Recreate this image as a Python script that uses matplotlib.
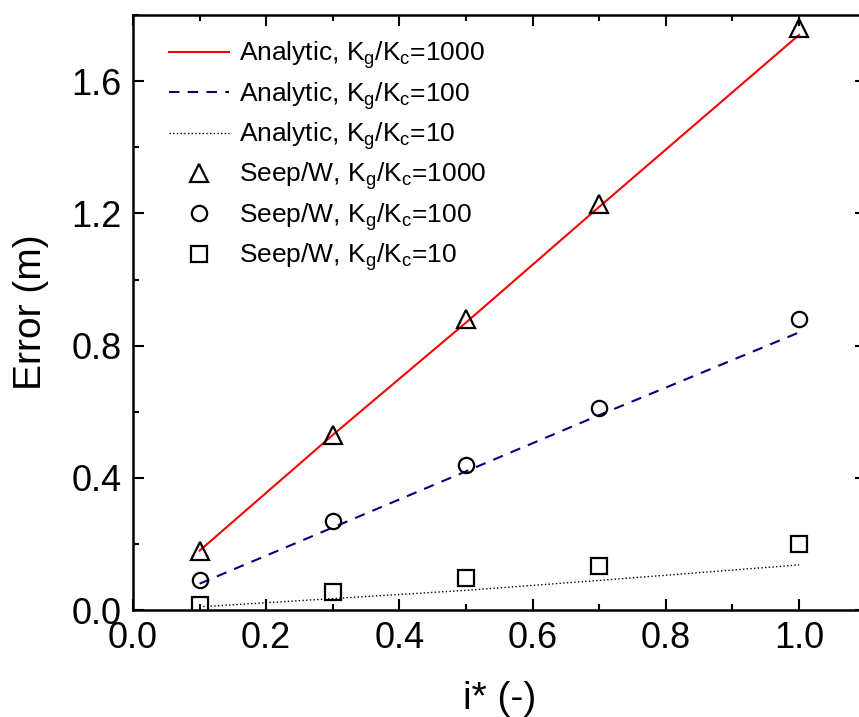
import matplotlib
matplotlib.use('Agg')
import matplotlib.pyplot as plt
from matplotlib.ticker import AutoMinorLocator

plt.rcParams['font.family'] = ['Liberation Sans', 'DejaVu Sans']
plt.rcParams['mathtext.fontset'] = 'custom'
plt.rcParams['mathtext.rm'] = 'Liberation Sans'
plt.rcParams['mathtext.default'] = 'regular'

# values
i_star = [0.1, 0.3, 0.5, 0.7, 1.0]
analytic_1000 = [0.18, 0.53, 0.87, 1.22, 1.74]
analytic_100 = [0.08, 0.25, 0.42, 0.59, 0.84]
analytic_10 = [0.01, 0.035, 0.06, 0.09, 0.137]
seep_1000 = [0.18, 0.53, 0.88, 1.23, 1.76]
seep_100 = [0.09, 0.27, 0.44, 0.61, 0.88]
seep_10 = [0.015, 0.055, 0.097, 0.135, 0.20]

fig = plt.figure(figsize=(8.59, 7.17), dpi=100)
ax = fig.add_axes([0.1548, 0.149, 0.853, 0.830])

ax.plot(i_star, analytic_1000, '-', color='red', lw=1.5, label='Analytic, K$_g$/K$_c$=1000')
ax.plot(i_star, analytic_100, '--', color='#000080', lw=1.5, dashes=(5, 4), label='Analytic, K$_g$/K$_c$=100')
ax.plot(i_star, analytic_10, ':', color='black', lw=1.0, label='Analytic, K$_g$/K$_c$=10')
mk = dict(ls='none', mfc='none', mec='black', mew=1.6)
ax.plot(i_star, seep_1000, marker='^', ms=13, label='Seep/W, K$_g$/K$_c$=1000', **mk)
ax.plot(i_star, seep_100, marker='o', ms=11, label='Seep/W, K$_g$/K$_c$=100', **mk)
ax.plot(i_star, seep_10, marker='s', ms=11, label='Seep/W, K$_g$/K$_c$=10', **mk)

ax.set_xlim(0, 1.1)
ax.set_ylim(0, 1.8)
ax.set_xticks([0.0, 0.2, 0.4, 0.6, 0.8, 1.0])
ax.set_yticks([0.0, 0.4, 0.8, 1.2, 1.6])
ax.xaxis.set_minor_locator(AutoMinorLocator(2))
ax.yaxis.set_minor_locator(AutoMinorLocator(2))
ax.tick_params(which='both', direction='in', top=True, right=True)
ax.tick_params(which='major', length=8, width=1.5, labelsize=26, pad=8)
ax.tick_params(which='minor', length=4, width=1.5)
for s in ax.spines.values():
    s.set_linewidth(1.8)

ax.set_xlabel('i* (-)', fontsize=28, labelpad=18)
ax.set_ylabel('Error (m)', fontsize=28, labelpad=16)

ax.legend(loc='upper left', bbox_to_anchor=(0.024, 0.99), frameon=False, fontsize=19,
          handlelength=2.27, labelspacing=0.33, borderaxespad=0.3, handletextpad=0.38)

fig.savefig('out.png', dpi=100)
